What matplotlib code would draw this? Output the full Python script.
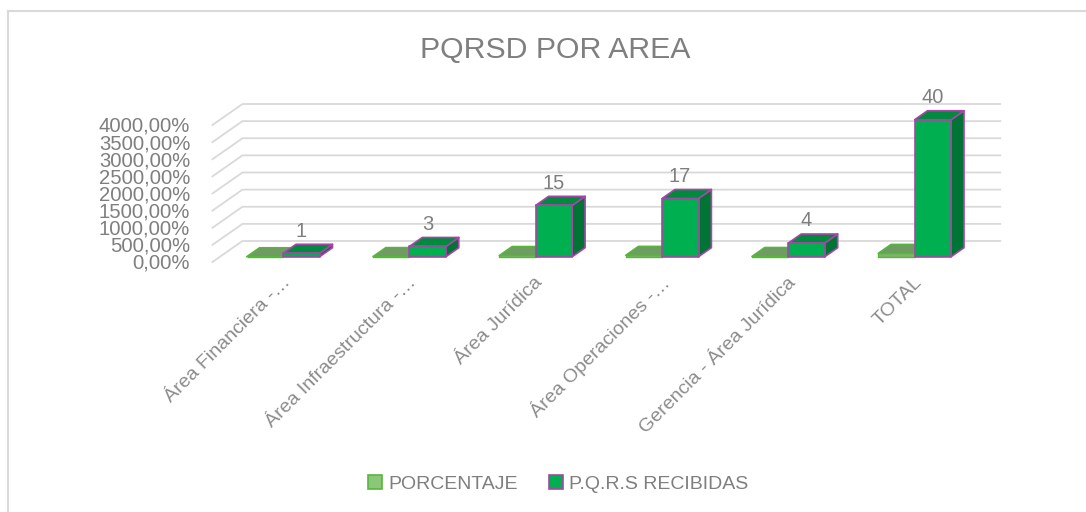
import matplotlib.pyplot as plt
from matplotlib.patches import Polygon, Patch
from matplotlib.lines import Line2D

# Datos del gráfico
categorias = ['Área Financiera -…', 'Área Infraestructura -…', 'Área Jurídica',
              'Área Operaciones -…', 'Gerencia - Área Jurídica', 'TOTAL']
pqrs_recibidas = [1, 3, 15, 17, 4, 40]
porcentaje = [2.5, 7.5, 37.5, 42.5, 10.0, 100.0]   # en %
ticks_y = [0, 500, 1000, 1500, 2000, 2500, 3000, 3500, 4000]
etiquetas_y = ['0,00%', '500,00%', '1000,00%', '1500,00%', '2000,00%',
               '2500,00%', '3000,00%', '3500,00%', '4000,00%']

W, H = 1086, 512
gris = '#7F7F7F'
plt.rcParams['font.family'] = ['Liberation Sans', 'DejaVu Sans']

# Geometría (pixeles) de la proyección oblicua tipo Excel 3D
X0, XS = 275.6, 126.3          # centro categoría 0 y separación
Y0, YS = 262.0, 137.0 / 4000   # base y escala vertical
DZX, DZY = 30.0 / XS, 21.0 / YS  # desplazamiento de profundidad (z=1)
ancho = 36.5 / XS
z0, z1 = 0.25, 0.68

fig = plt.figure(figsize=(W / 100, H / 100), dpi=100)
ax = fig.add_axes([0, 0, 1, 1])
ax.set_xlim(-X0 / XS, (W - X0) / XS)
ax.set_ylim((Y0 - H) / YS, Y0 / YS)
ax.axis('off')


def p(x, v, z):
    return (x + z * DZX, v + z * DZY)


# Cuadrícula
for v, lab in zip(ticks_y, etiquetas_y):
    pts = [p(-0.5, v, 0), p(-0.5, v, 1), p(len(categorias) - 0.5, v, 1)]
    ax.plot([a for a, b in pts], [b for a, b in pts], color='#D9D9D9', lw=1.3, zorder=1)
    ax.annotate(lab, p(-0.5, v, 0), xytext=(-16, -1), textcoords='offset points',
                ha='right', va='center', fontsize=14.6, color=gris)


def barra(x0, x1, h, caras, borde, lw):
    frente = [p(x0, 0, z0), p(x1, 0, z0), p(x1, h, z0), p(x0, h, z0)]
    arriba = [p(x0, h, z0), p(x1, h, z0), p(x1, h, z1), p(x0, h, z1)]
    lado = [p(x1, 0, z0), p(x1, 0, z1), p(x1, h, z1), p(x1, h, z0)]
    for pol, c in zip([lado, arriba, frente], caras):
        ax.add_patch(Polygon(pol, closed=True, facecolor=c, edgecolor=borde,
                             lw=lw, joinstyle='round', zorder=3))


for i, (cnt, pc) in enumerate(zip(pqrs_recibidas, porcentaje)):
    barra(i - ancho, i, pc, ['#6E9C63', '#6E9C63', '#7DB56A'], '#55B83A', 1.0)
    barra(i, i + ancho, cnt * 100, ['#007434', '#008A3E', '#00B050'], '#A845A8', 1.2)
    ax.annotate(str(cnt), p(i + ancho / 2, cnt * 100, z1), xytext=(-9.5, 9.5),
                textcoords='offset points', ha='center', va='center',
                fontsize=14.5, color=gris)
    ax.text(i + 12 / XS, (Y0 - 280) / YS, categorias[i], rotation=45,
            rotation_mode='anchor', ha='right', va='center', fontsize=14,
            color='#8C8C8C')

fig.text(555 / W, 1 - 50 / H, 'PQRSD POR AREA', ha='center', va='center',
         fontsize=21.8, color=gris)

# Borde del área del gráfico
fig.add_artist(Line2D([8 / W, 8 / W], [0, 1 - 11 / H], transform=fig.transFigure,
                      color='#D9D9D9', lw=1.5))
fig.add_artist(Line2D([8 / W, 1], [1 - 11 / H, 1 - 11 / H], transform=fig.transFigure,
                      color='#D9D9D9', lw=1.5))

handles = [Patch(facecolor='#8CC678', edgecolor='#55B83A', lw=1.2, label='PORCENTAJE'),
           Patch(facecolor='#00B050', edgecolor='#A845A8', lw=1.2, label='P.Q.R.S RECIBIDAS')]
fig.legend(handles=handles, loc='center', bbox_to_anchor=(558 / W, 1 - 484 / H),
           ncol=2, frameon=False, fontsize=14, labelcolor=gris,
           handlelength=0.75, handleheight=0.75, handletextpad=0.3, columnspacing=1.6)

fig.savefig('out.png', dpi=100)
